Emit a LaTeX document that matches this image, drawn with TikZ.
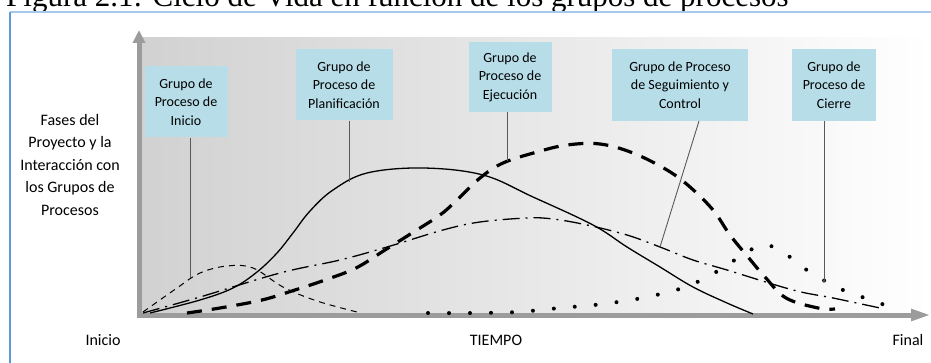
\documentclass[tikz,border=0pt]{standalone}
\usepackage{fontspec}
\setmainfont{Carlito}
\newfontfamily\captionfont{Liberation Serif}
\usetikzlibrary{arrows.meta}

\definecolor{boxblue}{HTML}{B7DDE8}
\definecolor{frameblue}{HTML}{5E9BD6}
\definecolor{framelight}{HTML}{A6C8EA}
\definecolor{axisgray}{HTML}{9C9C9C}

\begin{document}
\begin{tikzpicture}[x=1pt, y=-1pt,
            % Styles
            group/.style={rectangle, fill=boxblue, align=center, minimum height=71pt, inner sep=2pt, font=\fontsize{14}{18.5}\selectfont},
            axistext/.style={align=center, inner sep=0pt, font=\fontsize{16}{22.5}\selectfont},
            axis/.style={draw=axisgray, line width=5pt},
            leader/.style={draw=black!65, line width=0.9pt},
            inicioline/.style={draw=black, line width=1pt, dash pattern=on 6pt off 5pt},
            planline/.style={draw=black, line width=1.3pt},
            ejecline/.style={draw=black, line width=3.2pt, dash pattern=on 15pt off 10pt},
            seguiline/.style={draw=black, line width=1.3pt, dash pattern=on 17pt off 6pt on 2pt off 6pt},
            cierreline/.style={draw=black, line width=4pt, line cap=round, dash pattern=on 0pt off 21pt}
        ]
        \clip (0,0) rectangle (931,363);

        % Caption (cut at the top)
        \node [anchor=base west, inner sep=0pt, font=\captionfont\fontsize{31}{33}\selectfont] (caption) at (6,7) {Figura 2.1: Ciclo de Vida en función de los grupos de procesos};

        % Frame
        \draw [framelight, line width=1.5pt] (10,12) -- (931,12);
        \draw [frameblue, line width=1.5pt] (10,363) -- (10,12);

        % Plot area
        \shade [left color=black!18, middle color=black!10, right color=white] (137,38) rectangle (931,315);

        % Axes
        \coordinate (origin) at (139,315);
        \coordinate (ytop) at (139,30);
        \coordinate (xend) at (931,315);
        \draw [axis, -{Triangle[length=13pt, width=12pt]}] ([yshift=2.5pt]origin) -- (ytop);
        \draw [axis, -{Triangle[length=20pt, width=11pt]}] ([xshift=-2.5pt]origin) -- (xend);

        % Axis texts
        \node [axistext] (fases) at (70,165) {Fases del\\Proyecto y la\\Interacción con\\los Grupos de\\Procesos};
        \node [axistext] (start) at (103,340) {Inicio};
        \node [axistext] (tiempo) at (496,340) {TIEMPO};
        \node [axistext] (final) at (908,340) {Final};

        % Curves
        \draw [inicioline] plot [smooth, tension=0.6] coordinates {(143,312) (177,288) (200,273) (227,266) (253,268) (283,287) (317,301) (357,312)};
        \draw [planline] plot [smooth, tension=0.6] coordinates {(150,313) (200,300) (233,288) (257,272) (277,253) (293,233) (310,211) (333,190) (367,173) (423,168) (483,175) (533,197) (593,225) (627,247) (660,267) (693,287) (727,303) (753,314)};
        \draw [ejecline] plot [smooth, tension=0.6] coordinates {(187,313) (220,308) (262,300) (295,290) (325,280) (356,268) (385,250) (412,233) (440,215) (457,200) (480,178) (503,163) (537,152) (567,145) (600,144) (633,153) (667,170) (690,187) (713,210) (730,235) (748,257) (765,277) (786,298) (818,308) (835,309)};
        \draw [seguiline] plot [smooth, tension=0.6] coordinates {(143,313) (200,297) (280,273) (340,260) (387,247) (443,230) (480,222) (527,218) (553,219) (587,225) (627,235) (660,247) (693,260) (727,270) (793,290) (833,298) (880,308)};
        \draw [cierreline] plot [smooth, tension=0.6] coordinates {(428,313) (473,313) (517,312) (560,308) (603,304) (647,297) (688,286) (723,268) (745,253) (767,245) (793,259) (808,271) (825,281) (843,290) (862,297) (882,304) (902,309)};

        % Groups
        \node [group, minimum width=83pt] (inicio) at (186,102) {Grupo de\\Proceso de\\Inicio};
        \node [group, minimum width=97pt] (plan) at (344,85) {Grupo de\\Proceso de\\Planificación};
        \node [group, minimum width=83pt, minimum height=70pt] (ejec) at (510,77) {Grupo de\\Proceso de\\Ejecución};
        \node [group, minimum width=136pt, minimum height=72pt] (segui) at (680,85) {Grupo de Proceso\\de Seguimiento y\\Control};
        \node [group, minimum width=84pt, minimum height=72pt] (cierre) at (834,85) {Grupo de\\Proceso de\\Cierre};

        % Leaders
        \coordinate (inicio-end) at (190,278);
        \coordinate (plan-end) at (349,182);
        \coordinate (ejec-end) at (507,161);
        \coordinate (segui-start) at (699,121);
        \coordinate (segui-end) at (660,247);
        \coordinate (cierre-end) at (824,281);
        \path [leader] (inicio-end |- inicio.south) -- (inicio-end);
        \path [leader] (plan-end |- plan.south) -- (plan-end);
        \path [leader] (ejec-end |- ejec.south) -- (ejec-end);
        \path [leader] (segui-start) -- (segui-end);
        \path [leader] (cierre-end |- cierre.south) -- (cierre-end);
        \fill [black!70] (cierre-end) circle (1.6pt);

    \end{tikzpicture}
\end{document}
